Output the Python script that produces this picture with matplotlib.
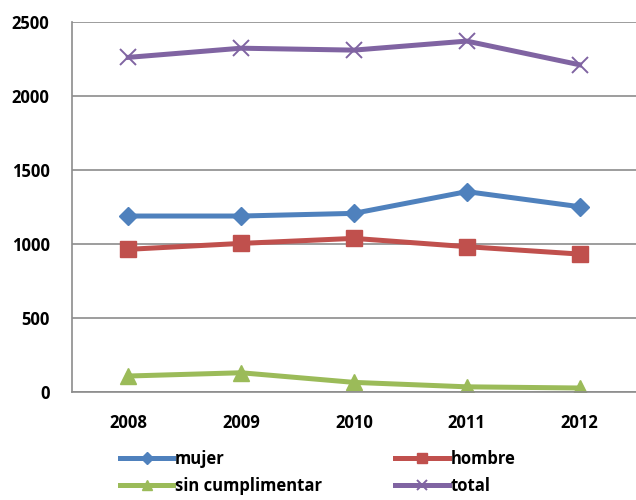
import matplotlib
matplotlib.use("Agg")
import matplotlib.pyplot as plt
import numpy as np

years = ["2008", "2009", "2010", "2011", "2012"]
mujer = [1189, 1189, 1207, 1354, 1252]
hombre = [964, 1004, 1038, 982, 932]
sin_cumplimentar = [108, 130, 65, 35, 27]
total = [2261, 2323, 2310, 2371, 2211]

plt.rcParams['font.family'] = ['Open Sans', 'DejaVu Sans']

fig = plt.figure(figsize=(6.36, 5.0), dpi=100)
ax = fig.add_axes([0.113, 0.216, 0.887, 0.74])

x = np.arange(len(years))
l1, = ax.plot(x, mujer, color='#4F81BD', lw=3.6, marker='D', ms=9, label='mujer')
l2, = ax.plot(x, hombre, color='#C0504D', lw=3.6, marker='s', ms=11, label='hombre')
l3, = ax.plot(x, sin_cumplimentar, color='#9BBB59', lw=3.6, marker='^', ms=12, label='sin cumplimentar')
l4, = ax.plot(x, total, color='#8064A2', lw=3.6, marker='x', ms=12, mew=1.4, label='total')

ax.set_xlim(-0.5, 4.5)
ax.set_ylim(0, 2500)
ax.set_yticks([0, 500, 1000, 1500, 2000, 2500])
ax.set_xticks(x)
ax.set_xticklabels(years)
ax.grid(axis='y', color='#8c8c8c', lw=1.2)
ax.set_axisbelow(True)
for s in ['top', 'right']:
    ax.spines[s].set_visible(False)
for s in ['left', 'bottom']:
    ax.spines[s].set_color('#8c8c8c')
    ax.spines[s].set_linewidth(1.2)
ax.tick_params(length=0, labelsize=12)
ax.tick_params(axis='y', pad=16)
ax.tick_params(axis='x', pad=16)
for t in ax.get_xticklabels() + ax.get_yticklabels():
    t.set_fontweight('bold')

# row order like the original: mujer, hombre / sin cumplimentar, total
fig.legend([l1, l3, l2, l4], ['mujer', 'sin cumplimentar', 'hombre', 'total'],
           loc='lower left', bbox_to_anchor=(0.165, -0.02), ncol=2, frameon=False,
           prop={'size': 12, 'weight': 'bold'}, handlelength=3.2, handletextpad=0.1,
           columnspacing=4.4, labelspacing=0.55, markerscale=0.65)

fig.savefig('out.png', dpi=100)
